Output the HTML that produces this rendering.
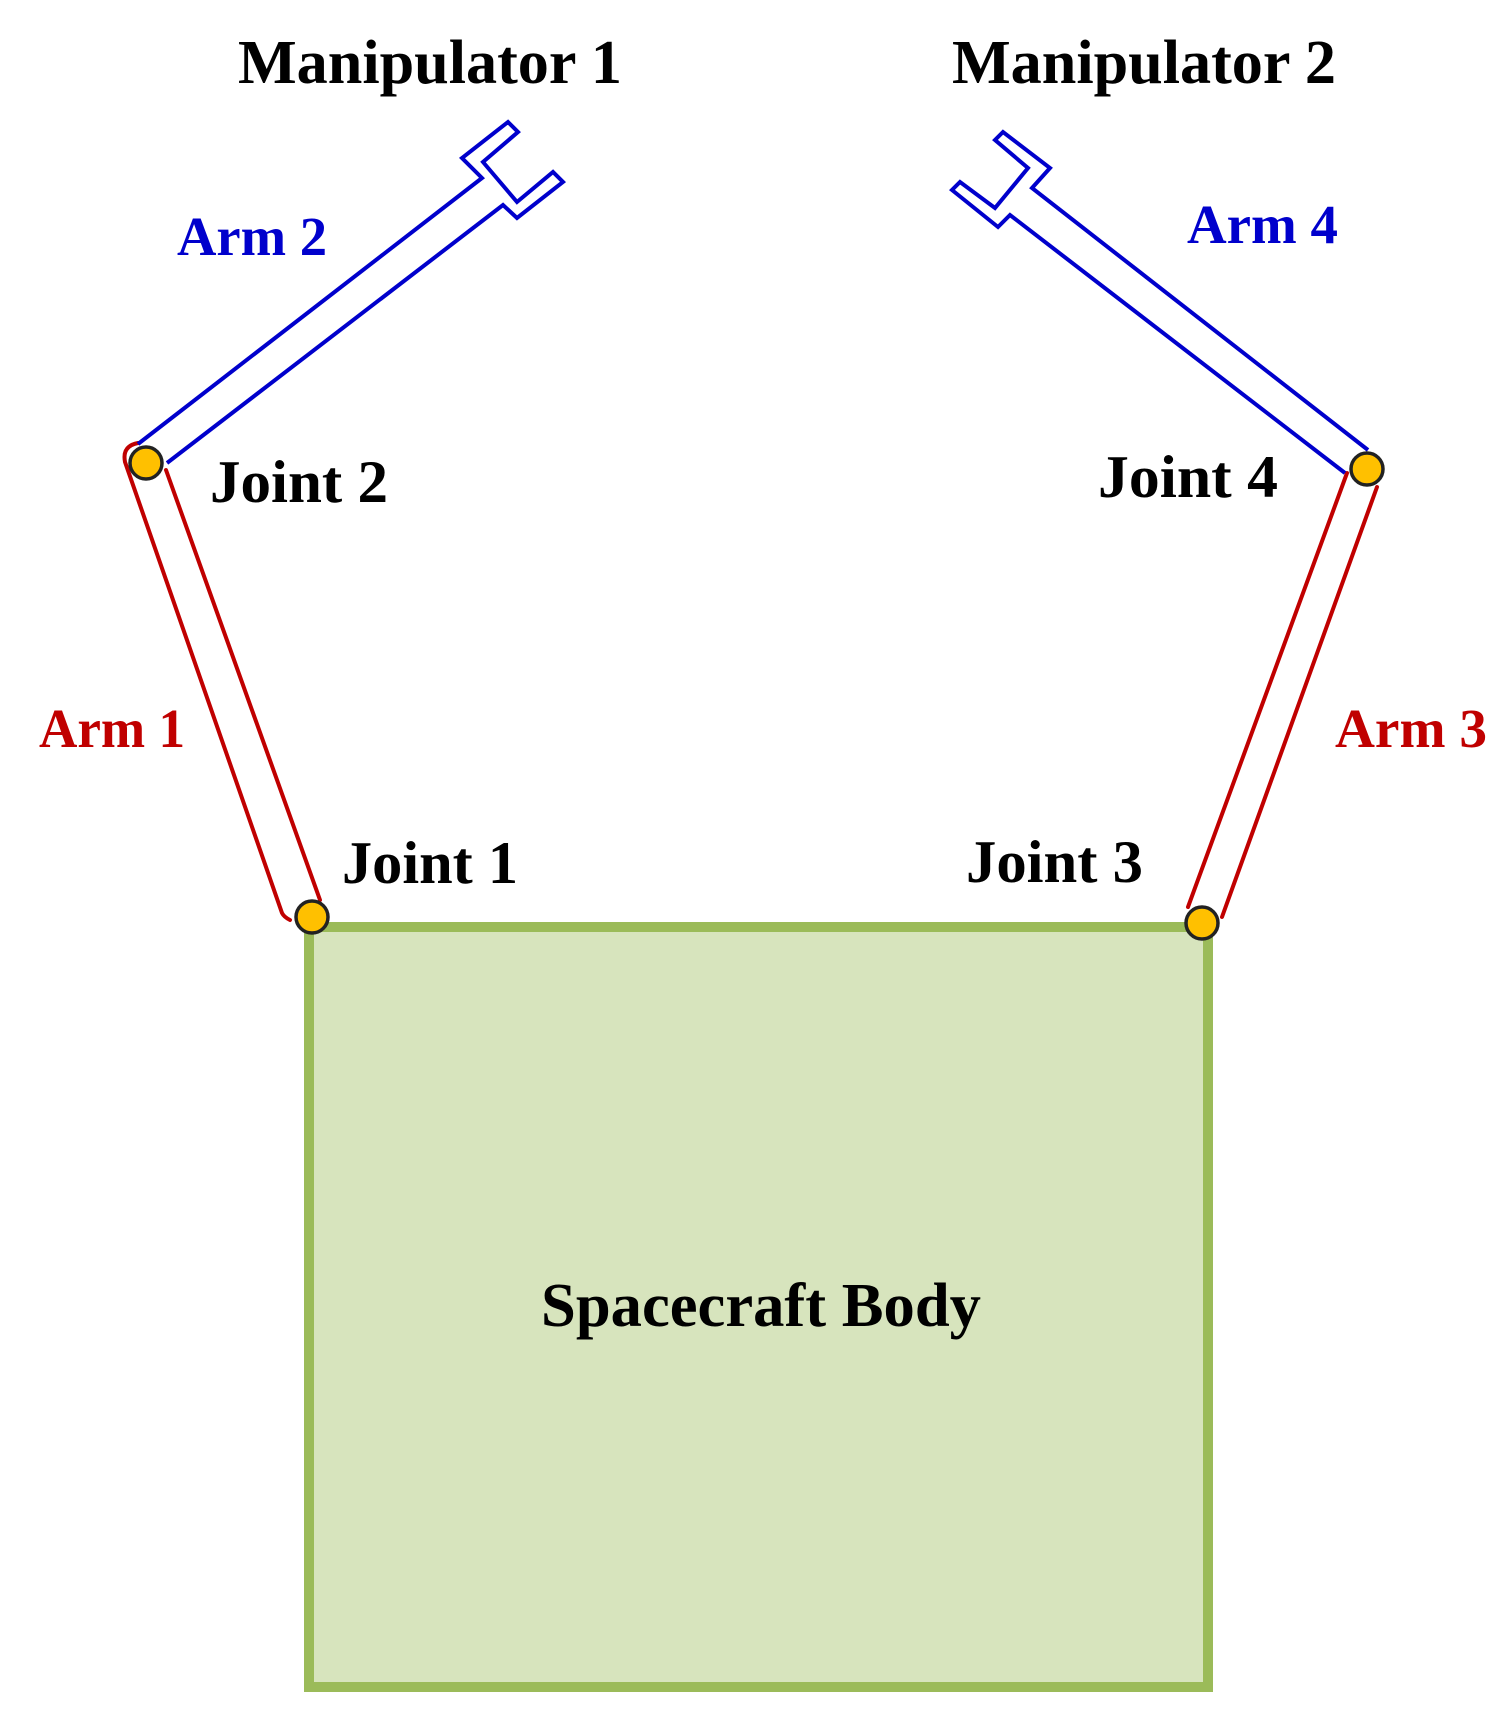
<!DOCTYPE html>
<html><head><meta charset="utf-8"><style>html,body{margin:0;padding:0;background:#fff}svg{display:block}</style></head>
<body>
<svg width="1511" height="1722" viewBox="0 0 1511 1722" xmlns="http://www.w3.org/2000/svg">
<rect x="309" y="927" width="899" height="760" fill="#d7e4bd" stroke="#9bbb59" stroke-width="10"/>
<g fill="none" stroke="#c00000" stroke-width="4" stroke-linejoin="round" stroke-linecap="round">
<path d="M320,900 L166,470"/>
<path d="M290,920 Q284,917 282,913 L125,462 Q122,446 138,443"/>
<path d="M1188,907 L1347,473"/>
<path d="M1222,917 L1377,487"/>
</g>
<g fill="none" stroke="#0000cc" stroke-width="4" stroke-linejoin="miter">
<path d="M138,444 L482,178 L462,158 L508,122 L518,132 L483,162 L517,202 L553,172 L563,182 L517,218 L503,205 L167,463"/>
<path d="M1368,450 L1032,188 L1050,168 L1003,132 L995,140 L1028,168 L995,208 L960,182 L952,190 L998,227 L1010,215 L1345,473"/>
</g>
<g fill="#ffc000" stroke="#222" stroke-width="3.5">
<circle cx="146" cy="463" r="16"/>
<circle cx="312" cy="917" r="16"/>
<circle cx="1202" cy="923" r="16"/>
<circle cx="1367" cy="469" r="16"/>
</g>
<g font-family="'Liberation Serif', serif" font-weight="bold">
<text x="238" y="83" font-size="62" textLength="384" lengthAdjust="spacingAndGlyphs">Manipulator 1</text>
<text x="952" y="83" font-size="62" textLength="384" lengthAdjust="spacingAndGlyphs">Manipulator 2</text>
<text x="541" y="1326" font-size="62" textLength="440" lengthAdjust="spacingAndGlyphs">Spacecraft Body</text>
<text x="342" y="883" font-size="60" textLength="176" lengthAdjust="spacingAndGlyphs">Joint 1</text>
<text x="210" y="502" font-size="60" textLength="178" lengthAdjust="spacingAndGlyphs">Joint 2</text>
<text x="966" y="882" font-size="60" textLength="177" lengthAdjust="spacingAndGlyphs">Joint 3</text>
<text x="1098" y="497" font-size="60" textLength="180" lengthAdjust="spacingAndGlyphs">Joint 4</text>
<g fill="#c00000">
<text x="39" y="747" font-size="55" textLength="146" lengthAdjust="spacingAndGlyphs">Arm 1</text>
<text x="1335" y="747" font-size="55" textLength="152" lengthAdjust="spacingAndGlyphs">Arm 3</text>
</g>
<g fill="#0000cc">
<text x="177" y="255" font-size="55" textLength="150" lengthAdjust="spacingAndGlyphs">Arm 2</text>
<text x="1187" y="243" font-size="55" textLength="151" lengthAdjust="spacingAndGlyphs">Arm 4</text>
</g>
</g>
</svg>
</body></html>
